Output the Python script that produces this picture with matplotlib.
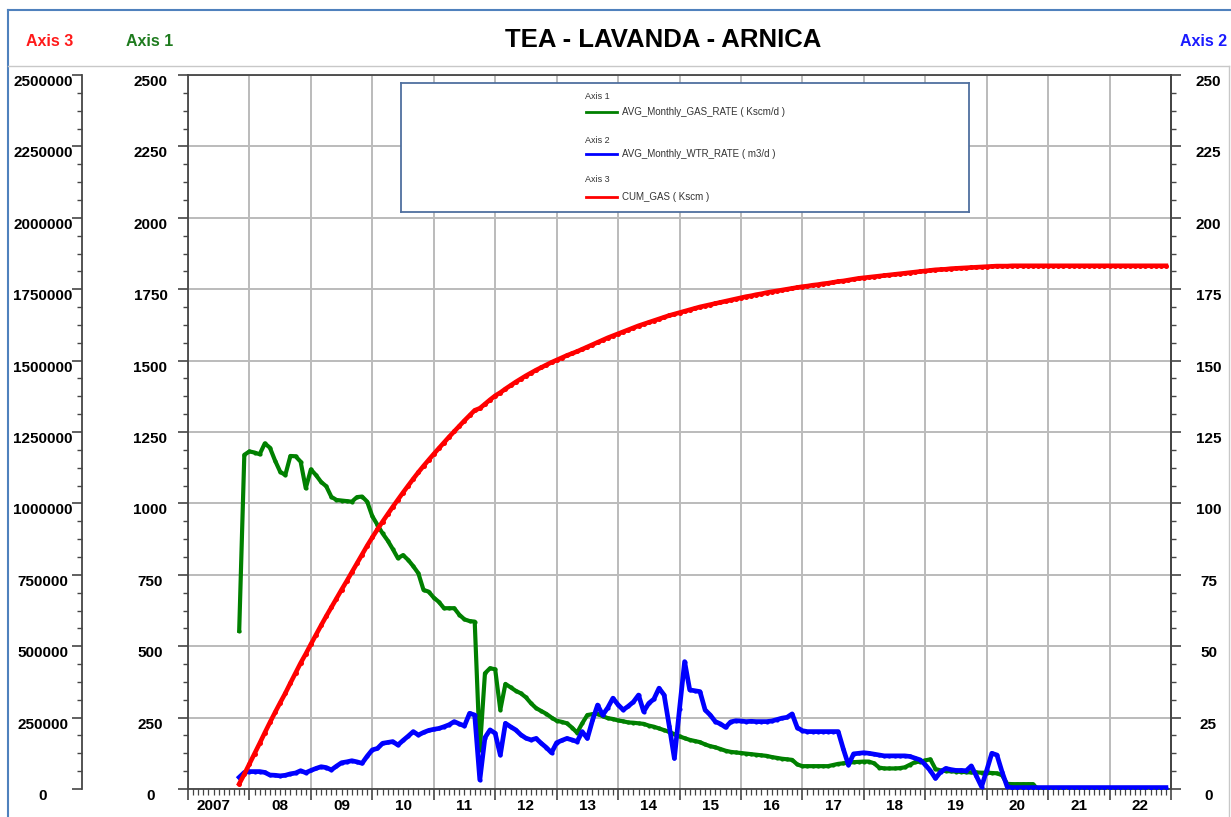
import matplotlib
matplotlib.use('Agg')
import matplotlib.pyplot as plt
from matplotlib.lines import Line2D
import numpy as np
import pandas as pd

plt.rcParams['font.family'] = ['Liberation Sans', 'DejaVu Sans']

W, H = 1231, 817

# monthly points, Nov 2007 .. Dec 2022
months = pd.period_range('2007-11', '2022-12', freq='M')
t = months.year + (months.month - 1) / 12.0

# Axis 1 - AVG_Monthly_GAS_RATE (Kscm/d)
gas_rate = [
    554, 1170,
    1182, 1178, 1172, 1210, 1195, 1150, 1111, 1099, 1166, 1165, 1146, 1053,
    1119, 1099, 1075, 1060, 1023, 1012, 1010, 1008, 1006, 1022, 1024, 1006,
    955, 925, 895, 870, 840, 808, 819, 802, 780, 755, 697, 691,
    670, 655, 633, 633, 633, 610, 594, 588, 586, 137, 405, 423,
    419, 277, 368, 356, 344, 335, 321, 300, 283, 273, 263, 250,
    239, 235, 230, 215, 197, 230, 259, 262, 263, 255, 248, 245,
    240, 237, 233, 232, 230, 228, 222, 218, 212, 206, 200, 192,
    184, 178, 172, 168, 164, 156, 150, 146, 140, 134, 130, 128,
    126, 124, 122, 120, 118, 116, 112, 109, 106, 104, 102, 86,
    80, 80, 80, 80, 80, 80, 84, 88, 90, 92, 94, 95,
    96, 96, 90, 75, 72, 72, 72, 73, 76, 85, 94, 96,
    100, 104, 70, 65, 63, 62, 61, 60, 59, 58, 58, 57,
    57, 56, 55, 48, 18, 17, 17, 17, 17, 17, 0, 0,
    0, 0, 0, 0, 0, 0, 0, 0, 0, 0, 0, 0,
    0, 0, 0, 0, 0, 0, 0, 0, 0, 0, 0, 0,
]

# Axis 2 - AVG_Monthly_WTR_RATE (m3/d)
wtr_rate = [
    4.1, 5.8,
    6.1, 6.1, 6.1, 5.8, 4.9, 4.8, 4.6, 4.8, 5.3, 5.6, 6.4, 5.7,
    6.5, 7.2, 7.8, 7.5, 6.7, 8.0, 9.2, 9.5, 9.9, 9.5, 9.0, 11.5,
    13.7, 14.2, 16.0, 16.3, 16.6, 15.4, 17.0, 18.5, 20.1, 18.9, 19.8, 20.5,
    20.9, 21.2, 21.8, 22.5, 23.6, 22.8, 22.1, 26.5, 25.9, 3.2, 18.0, 20.7,
    19.5, 11.9, 23.0, 21.8, 20.7, 19.0, 17.8, 17.2, 17.7, 16.0, 14.5, 12.7,
    16.2, 17.0, 17.7, 17.2, 16.6, 20.1, 17.7, 24.0, 29.4, 25.9, 28.5, 31.8,
    29.5, 27.7, 29.0, 30.5, 32.9, 27.1, 30.0, 31.5, 35.3, 32.9, 22.0, 10.7,
    28.0, 44.6, 34.7, 34.4, 34.1, 27.7, 25.9, 23.6, 22.8, 21.6, 23.5, 23.9,
    23.8, 23.6, 23.7, 23.6, 23.6, 23.6, 23.8, 24.3, 24.8, 25.1, 26.3, 21.5,
    20.4, 20.1, 20.1, 20.1, 20.1, 20.1, 20.1, 20.1, 14.0, 8.4, 12.3, 12.5,
    12.7, 12.5, 12.2, 11.9, 11.6, 11.6, 11.6, 11.6, 11.6, 11.4, 10.8, 10.2,
    8.5, 6.4, 3.7, 6.0, 7.2, 6.8, 6.5, 6.5, 6.4, 8.1, 4.5, 0.8,
    6.5, 12.5, 11.9, 6.0, 0.8, 0.5, 0.5, 0.5, 0.5, 0.5, 0.5, 0.5,
    0.5, 0.5, 0.5, 0.5, 0.5, 0.5, 0.5, 0.5, 0.5, 0.5, 0.5, 0.5,
    0.5, 0.5, 0.5, 0.5, 0.5, 0.5, 0.5, 0.5, 0.5, 0.5, 0.5, 0.5,
]

# Axis 3 - CUM_GAS (Kscm)
cum_gas = [
    18000, 52000,
    88000, 124000, 160000, 197000, 233000, 268000, 302000, 335000, 371000, 406000, 441000, 473000,
    507000, 540000, 573000, 605000, 636000, 667000, 698000, 728000, 759000, 790000, 821000, 852000,
    881000, 909000, 936000, 962000, 988000, 1013000, 1038000, 1062000, 1086000, 1109000, 1131000, 1152000,
    1173000, 1193000, 1213000, 1233000, 1252000, 1271000, 1290000, 1308000, 1326000, 1333000, 1348000, 1363000,
    1377000, 1388000, 1401000, 1413000, 1425000, 1436000, 1447000, 1457000, 1467000, 1476000, 1485000, 1494000,
    1502000, 1510000, 1518000, 1525000, 1532000, 1540000, 1548000, 1556000, 1564000, 1572000, 1580000, 1587000,
    1594000, 1601000, 1608000, 1615000, 1622000, 1628000, 1634000, 1640000, 1646000, 1652000, 1658000, 1663000,
    1668000, 1673000, 1678000, 1683000, 1688000, 1692000, 1696000, 1700000, 1704000, 1708000, 1712000, 1716000,
    1720000, 1724000, 1727000, 1731000, 1734000, 1738000, 1741000, 1744000, 1747000, 1750000, 1753000, 1756000,
    1759000, 1761000, 1764000, 1766000, 1769000, 1771000, 1774000, 1777000, 1779000, 1782000, 1785000, 1788000,
    1790000, 1792000, 1794000, 1796000, 1798000, 1800000, 1802000, 1804000, 1806000, 1808000, 1810000, 1812000,
    1814000, 1816000, 1818000, 1819000, 1820000, 1822000, 1823000, 1824000, 1825000, 1826000, 1827000, 1828000,
    1829000, 1830000, 1831000, 1831000, 1831000, 1832000, 1832000, 1832000, 1832000, 1832000, 1832000, 1832000,
    1832000, 1832000, 1832000, 1832000, 1832000, 1832000, 1832000, 1832000, 1832000, 1832000, 1832000, 1832000,
    1832000, 1832000, 1832000, 1832000, 1832000, 1832000, 1832000, 1832000, 1832000, 1832000, 1832000, 1832000,
]

years = list(range(2007, 2023))
year_labels = ['2007'] + ['%02d' % (y % 100) for y in years[1:]]

axis1_ticks = list(range(0, 2501, 250))
axis2_ticks = list(range(0, 251, 25))
axis3_ticks = list(range(0, 2500001, 250000))

GREEN = '#008000'
BLUE = '#0000ff'
RED = '#ff0000'
SPINE = '#454545'

fig = plt.figure(figsize=(W / 100, H / 100), dpi=100)
x0, x1, y0, y1 = 188, 1171, 75, 789
ax = fig.add_axes([x0 / W, 1 - y1 / H, (x1 - x0) / W, (y1 - y0) / H])
ax2 = ax.twinx()
ax3 = ax.twinx()

ax.set_xlim(2007, 2023)
ax.set_ylim(0, 2500)
ax2.set_ylim(0, 250)
ax3.set_ylim(0, 2500000)

lab_kw = dict(fontweight='bold', ha='center', va='top', fontsize=11)

# axis 1 (left, green)
ax.set_yticks(axis1_ticks, [str(v) for v in axis1_ticks], **lab_kw)
ax.set_yticks(np.arange(0, 2501, 62.5), minor=True)
ax.tick_params(axis='y', which='major', length=7.5, width=1.2, color=SPINE, pad=19.5)
ax.tick_params(axis='y', which='minor', length=3.5, width=1.0, color=SPINE)

# x axis
ax.set_xticks(range(2007, 2024))
ax.set_xticks(np.arange(2007, 2023.001, 1 / 12.0), minor=True)
ax.tick_params(axis='x', which='major', length=8, width=1.2, color=SPINE, labelbottom=False)
ax.tick_params(axis='x', which='minor', length=4, width=0.9, color=SPINE)
for y, lab in zip(years, year_labels):
    xpos = y + (0.42 if y == 2007 else 0.5)
    ax.text(xpos, -0.0235, lab, transform=ax.get_xaxis_transform(),
            ha='center', va='center', fontsize=11, fontweight='bold')

ax.grid(True, which='major', color='#bbbbbb', lw=1.4)
ax.set_axisbelow(True)
for s in ax.spines.values():
    s.set_color(SPINE)
    s.set_linewidth(1.3)

# axis 2 (right, blue)
ax2.set_yticks(axis2_ticks, [str(v) for v in axis2_ticks], **lab_kw)
ax2.set_yticks(np.arange(0, 250.1, 6.25), minor=True)
ax2.tick_params(axis='y', which='major', length=7.5, width=1.2, color=SPINE, pad=19.5)
ax2.tick_params(axis='y', which='minor', length=3.5, width=1.0, color=SPINE)
for k in ['left', 'top', 'bottom']:
    ax2.spines[k].set_visible(False)
ax2.spines['right'].set_color(SPINE)
ax2.spines['right'].set_linewidth(1.3)

# axis 3 (outer left, red)
ax3.yaxis.set_ticks_position('left')
ax3.spines['left'].set_position(('axes', (82 - x0) / (x1 - x0)))
ax3.spines['left'].set_visible(True)
for k in ['right', 'top', 'bottom']:
    ax3.spines[k].set_visible(False)
ax3.spines['left'].set_color(SPINE)
ax3.spines['left'].set_linewidth(1.3)
ax3.set_yticks(axis3_ticks, [str(v) for v in axis3_ticks], **lab_kw)
ax3.set_yticks(np.arange(0, 2500001, 62500), minor=True)
ax3.tick_params(axis='y', which='major', length=7.5, width=1.2, color=SPINE, pad=20.5)
ax3.tick_params(axis='y', which='minor', length=3.5, width=1.0, color=SPINE)

# series
ax.plot(t, gas_rate, color=GREEN, lw=3, marker='o', ms=3, mew=0, zorder=3)
ax2.plot(t, wtr_rate, color=BLUE, lw=3.4, marker='o', ms=3, mew=0, zorder=3)
ax3.plot(t, cum_gas, color=RED, lw=3.3, marker='o', ms=3.6, mew=0, zorder=3)

# legend box
lg = fig.add_axes([401 / W, 1 - 212 / H, (969 - 401) / W, (212 - 83) / H])
lg.set_xlim(401, 969)
lg.set_ylim(212, 83)
lg.set_xticks([])
lg.set_yticks([])
for s in lg.spines.values():
    s.set_color('#4f6f9f')
    s.set_linewidth(1.3)
entries = [
    ('Axis 1', 97, 112, 'AVG_Monthly_GAS_RATE ( Kscm/d )', GREEN),
    ('Axis 2', 141, 154, 'AVG_Monthly_WTR_RATE ( m3/d )', BLUE),
    ('Axis 3', 180, 197, 'CUM_GAS ( Kscm )', RED),
]
for head, yh, yl, label, col in entries:
    lg.text(585, yh, head, fontsize=6.5, va='center', ha='left', color='#333333')
    lg.add_line(Line2D([586, 617], [yl, yl], color=col, lw=2))
    lg.text(622, yl, label, fontsize=7, va='center', ha='left', color='#333333')

# header texts
fig.text(663 / W, 1 - 40 / H, 'TEA - LAVANDA - ARNICA', ha='center', va='center',
         fontsize=18.5, fontweight='bold')
fig.text(50 / W, 1 - 42 / H, 'Axis 3', ha='center', va='center', fontsize=11.5,
         fontweight='bold', color='#ff1a1a')
fig.text(150 / W, 1 - 42 / H, 'Axis 1', ha='center', va='center', fontsize=11.5,
         fontweight='bold', color='#1e7b1e')
fig.text(1204 / W, 1 - 42 / H, 'Axis 2', ha='center', va='center', fontsize=11.5,
         fontweight='bold', color='#1a1aff')

# outer frame
fig.add_artist(Line2D([8 / W, 1], [1 - 10 / H] * 2, color='#4f81bd', lw=1.5))
fig.add_artist(Line2D([8 / W] * 2, [0, 1 - 10 / H], color='#4f81bd', lw=1.5))
fig.add_artist(Line2D([8 / W, 1229 / W], [1 - 66 / H] * 2, color='#c8c8c8', lw=1))
fig.add_artist(Line2D([1229 / W] * 2, [0, 1 - 66 / H], color='#c8c8c8', lw=1))

fig.savefig('out.png', dpi=100)
